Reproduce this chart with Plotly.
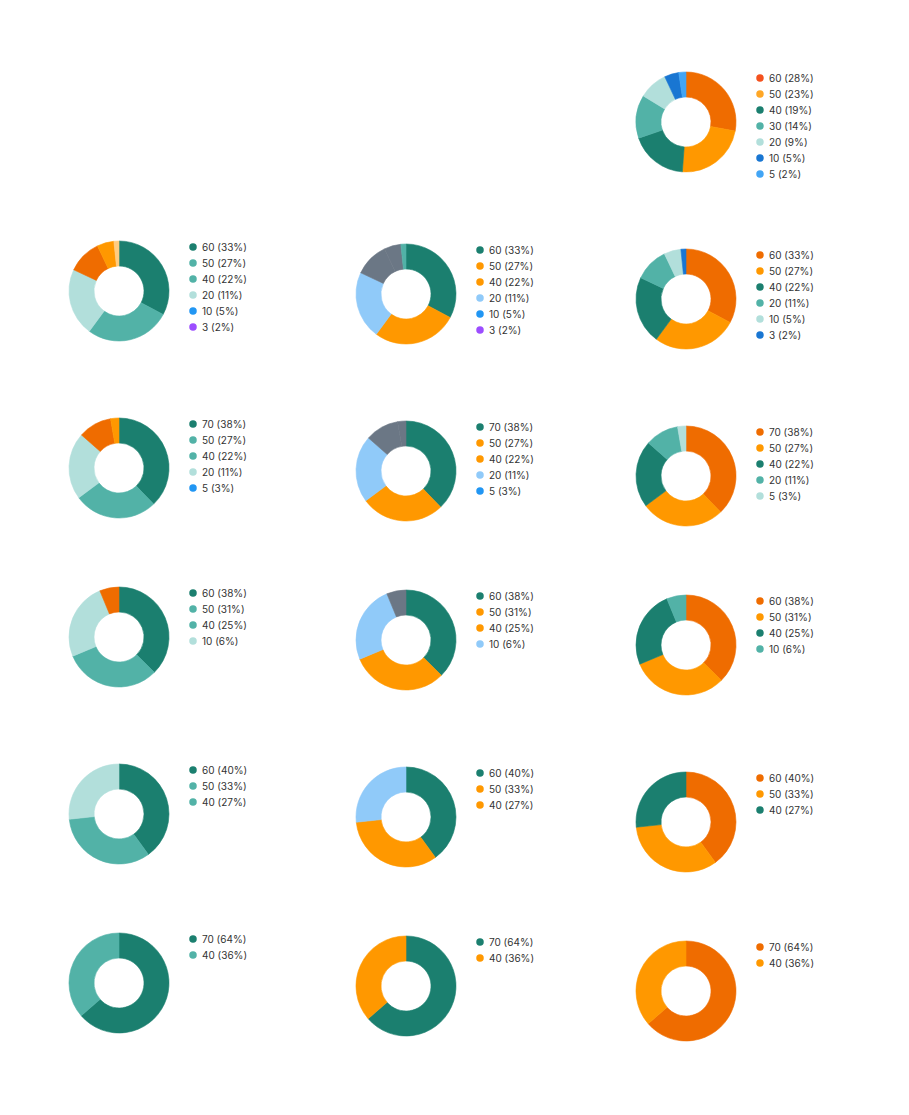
import plotly.graph_objects as go

# %% Data
row1_values = [60, 50, 40, 30, 20, 10, 5]
row2_values = [60, 50, 40, 20, 10, 3]
row3_values = [70, 50, 40, 20, 5]
row4_values = [60, 50, 40, 10]
row5_values = [60, 50, 40]
row6_values = [70, 40]
rows = [row1_values, row2_values, row3_values, row4_values, row5_values, row6_values]

# which columns show a chart in each row
row_columns = [[2], [0, 1, 2], [0, 1, 2], [0, 1, 2], [0, 1, 2], [0, 1, 2]]

# %% Colours
DT = '#1b7f6f'
TEAL = '#52b2a7'
LT = '#b2dfdb'
DORANGE = '#ef6c00'
ORANGE = '#ff9800'
LORANGE = '#ffcc80'
LBLUE = '#90caf9'
SLATE = '#6b7785'
BLUE = '#1976d2'
SKY = '#42a5f5'
BRIGHT = '#2196f3'
PURPLE = '#9c4dff'
RED = '#f4511e'

slice_colors = [
    [DT, TEAL, LT, DORANGE, ORANGE, LORANGE],
    [DT, ORANGE, LBLUE, SLATE, SLATE, TEAL],
    [DORANGE, ORANGE, DT, TEAL, LT, BLUE, SKY],
]
legend_colors = [
    [DT, TEAL, TEAL, LT, BRIGHT, PURPLE],
    [DT, ORANGE, ORANGE, LBLUE, BRIGHT, PURPLE],
    [DORANGE, ORANGE, DT, TEAL, LT, BLUE, SKY],
]
first_legend_colors = [RED, '#ffa726', DT, TEAL, LT, BLUE, SKY]

# %% Layout (pixels)
W, H = 909, 1115
R = 50
col_x = [119, 406, 686]
col_y = [
    [None, 291, 468, 637, 814, 983],
    [None, 294, 471, 640, 817, 986],
    [122, 299, 476, 645, 822, 991],
]

fig = go.Figure()
dot_x, dot_y, dot_c = [], [], []
annotations = []

for r, values in enumerate(rows):
    total = sum(values)
    for c in row_columns[r]:
        cx, cy = col_x[c], col_y[c][r]
        cols = slice_colors[c][:len(values)]
        fig.add_trace(go.Pie(
            values=values,
            labels=[f'{v}' for v in values],
            marker=dict(colors=cols, line=dict(width=0.6, color=cols)),
            hole=0.5,
            sort=False,
            direction='clockwise',
            rotation=0,
            textinfo='none',
            hoverinfo='label+percent',
            showlegend=False,
            domain=dict(x=[(cx - R) / W, (cx + R) / W],
                        y=[1 - (cy + R) / H, 1 - (cy - R) / H]),
        ))
        lcols = first_legend_colors if r == 0 else legend_colors[c]
        for i, v in enumerate(values):
            ly = cy - 44 + 16 * i
            dot_x.append(cx + 74)
            dot_y.append(ly)
            dot_c.append(lcols[i])
            annotations.append(dict(
                x=cx + 81, y=ly, xref='x', yref='y',
                text=f'{v} ({round(100 * v / total)}%)',
                showarrow=False, xanchor='left', yanchor='middle',
                font=dict(size=10, color='#333333', family='Inter'),
            ))

# legend dots
fig.add_trace(go.Scatter(
    x=dot_x, y=dot_y, mode='markers',
    marker=dict(size=7.5, color=dot_c),
    hoverinfo='skip', showlegend=False,
))

fig.update_layout(
    width=W, height=H,
    margin=dict(l=0, r=0, t=0, b=0),
    paper_bgcolor='white', plot_bgcolor='rgba(0,0,0,0)',
    xaxis=dict(range=[0, W], visible=False, fixedrange=True),
    yaxis=dict(range=[H, 0], visible=False, fixedrange=True),
    annotations=annotations,
    showlegend=False,
)

fig.write_html('out.html', config={'displayModeBar': False},
               post_script="document.body.style.margin='0';")
